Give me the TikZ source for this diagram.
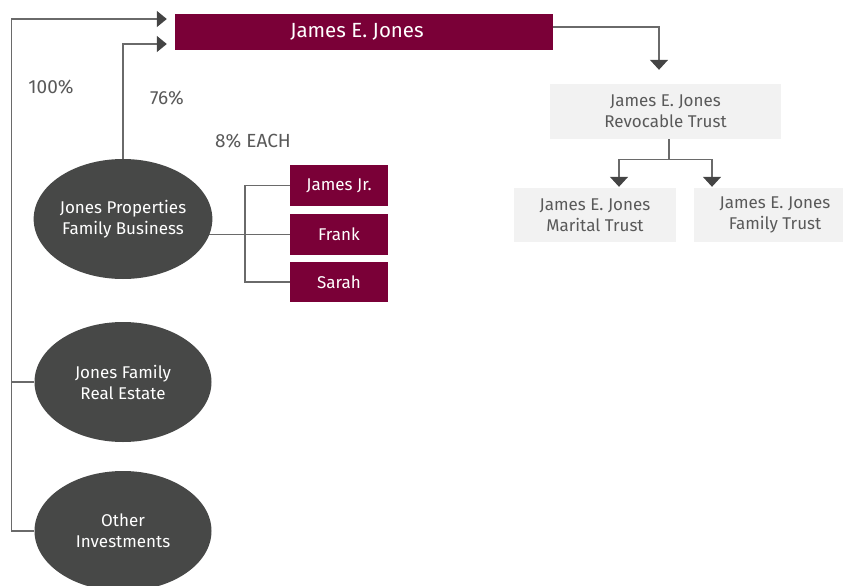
\documentclass[tikz,border=0pt]{standalone}
\usepackage{fontspec}
\setmainfont{Fira Sans}
\usetikzlibrary{arrows.meta,shapes.geometric}
\pgfdeclarelayer{bg}
\pgfsetlayers{bg,main}
\definecolor{maroon}{HTML}{7A0037}
\definecolor{darkel}{HTML}{474847}
\definecolor{lightbox}{HTML}{F2F2F2}
\definecolor{txtgray}{HTML}{595959}
\definecolor{linegray}{HTML}{6A6A6A}
\definecolor{tipgray}{HTML}{444444}
\tikzset{
  redbox/.style={rectangle, fill=maroon, text=white, font=\fontsize{17}{21}\selectfont, inner sep=0pt, align=center},
  graybox/.style={rectangle, fill=lightbox, text=txtgray, font=\fontsize{17}{21}\selectfont, inner sep=0pt, align=center},
  darkell/.style={ellipse, fill=darkel, text=white, font=\fontsize{17}{21}\selectfont, inner sep=0pt, minimum width=177pt, minimum height=120pt, align=center},
  lbl/.style={text=txtgray, font=\fontsize{19}{22}\selectfont, inner sep=0pt},
  conn/.style={draw=linegray, line width=1.4pt},
  arr/.style={conn, -{Triangle[length=10pt,width=16pt,fill=tipgray,color=tipgray]}},
  darr/.style={conn, -{Triangle[length=10pt,width=18pt,fill=tipgray,color=tipgray]}}
}
\begin{document}
\begin{tikzpicture}[x=1pt,y=-1pt]
\useasboundingbox (0,0) rectangle (843,586);
% top person
\node[redbox, minimum width=378pt, minimum height=36pt, font=\fontsize{20.5}{22}\selectfont] (jej) at (364,32) {\hspace*{-14pt}\raisebox{-3pt}{James E. Jones}};
% ellipses
\node[darkell] (jp) at (123,219) {Jones Properties\\Family Business};
\node[darkell] (jfre) at (123,382) {Jones Family\\Real Estate};
\node[darkell] (oi) at (123,531) {Other\\Investments};
% children boxes
\node[redbox, minimum width=98pt, minimum height=41pt] (jj) at (339,185.5) {\raisebox{-2pt}{James Jr.}};
\node[redbox, minimum width=98pt, minimum height=41pt] (fr) at (339,234.5) {Frank};
\node[redbox, minimum width=98pt, minimum height=40pt] (sa) at (339,282) {Sarah};
% trusts
\node[graybox, minimum width=231pt, minimum height=55pt] (rt) at (665.5,111.5) {James E. Jones\\Revocable Trust};
\node[graybox, minimum width=162pt, minimum height=54pt] (mt) at (595,215) {James E. Jones\\Marital Trust};
\node[graybox, minimum width=150pt, minimum height=54pt] (ft) at (769,215) {\hspace*{12pt}James E. Jones\\\hspace*{12pt}Family Trust};
% labels
\node[lbl] (l100) at (51,87) {100\%};
\node[lbl] (l76) at (167,98) {76\%};
\node[lbl] (l8) at (253,141) {8\% EACH};
% arrow targets
\coordinate (t1) at ([xshift=-8pt,yshift=13pt]jej.west);
\coordinate (t2) at ([xshift=-8pt,yshift=-12pt]jej.west);
\begin{pgfonlayer}{bg}
% connectors left
\draw[arr] (oi.west) -- ++(-23,0) |- (t1);
\draw[conn] (jfre.west) -- ++(-23,0);
\draw[arr] (jp.north) |- (t2);
\draw[conn] (fr.west) -- (fr.west -| jp.center);
\draw[conn] (jj.west) -- ++(-45,0) |- (sa.west);
% connectors right
\coordinate (rs) at ([yshift=5pt]jej.east);
\coordinate (rtop) at ([xshift=-6.5pt,yshift=14pt]rt.north);
\draw[darr] (rs) -| (rtop);
\coordinate (rb) at ([xshift=3.5pt]rt.south);
\coordinate (split) at ([yshift=-20pt]rb);
\coordinate (mtop) at ([xshift=24pt,yshift=1pt]mt.north);
\coordinate (ftop) at ([xshift=-57pt,yshift=1pt]ft.north);
\draw[conn] (rb) -- (split);
\draw[darr] (split) -| (mtop);
\draw[darr] (split) -| (ftop);
\end{pgfonlayer}
\end{tikzpicture}
\end{document}
